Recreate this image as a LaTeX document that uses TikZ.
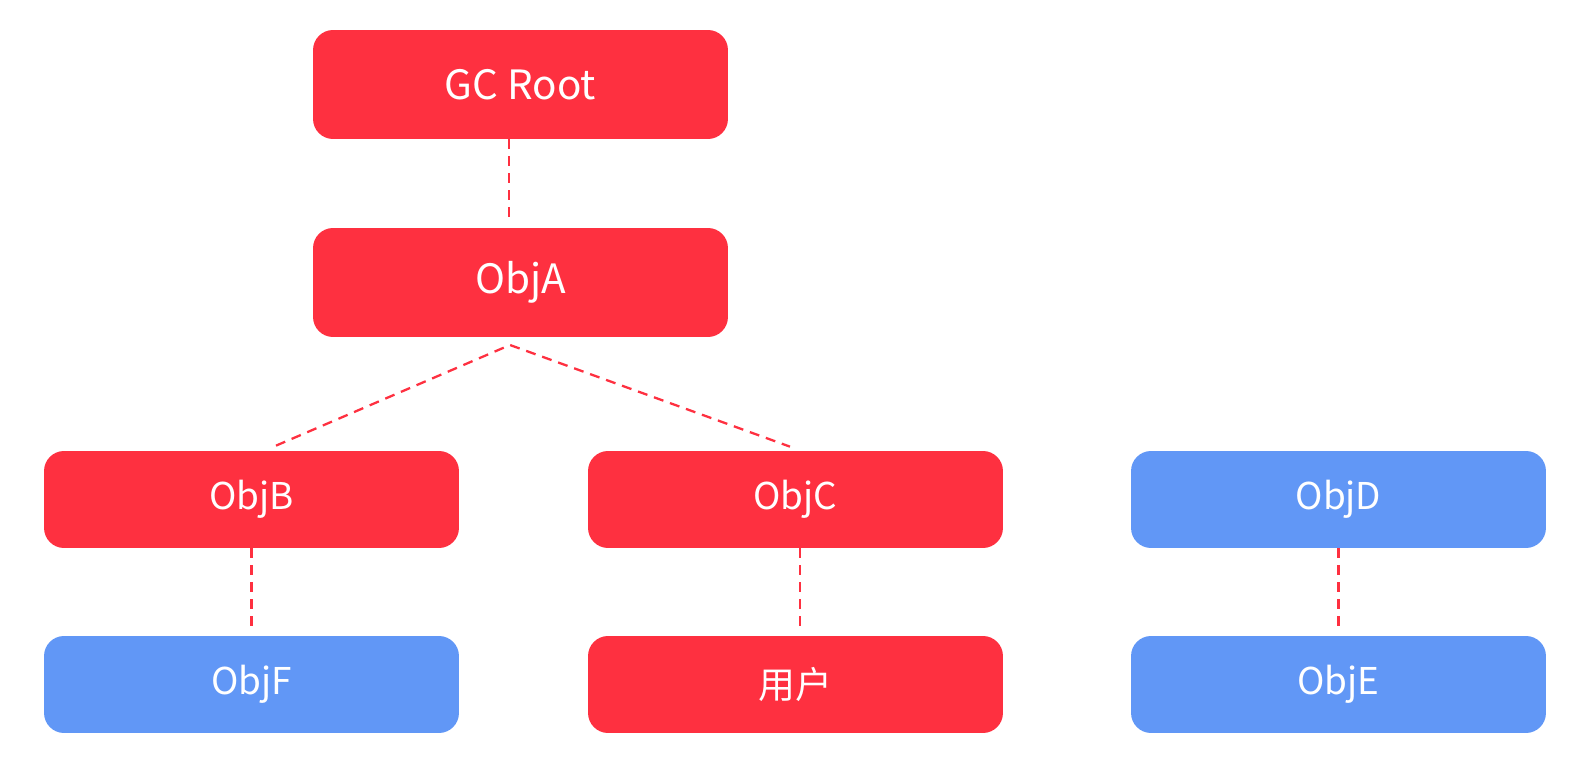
\documentclass[tikz,border=0pt]{standalone}
\usepackage{fontspec}
\setmainfont{Noto Sans CJK SC}
\usepackage{tikz}
\usetikzlibrary{positioning}
\definecolor{livered}{RGB}{254,48,64}
\definecolor{deadblue}{RGB}{97,151,246}

\begin{document}
\begin{tikzpicture}[x=0.02cm, y=-0.02cm,
                    objbox/.style={rounded corners=0.4cm, minimum width=8.3cm, minimum height=1.94cm, text=white, font=\fontsize{21}{25}\selectfont},
                    rootbox/.style={objbox, minimum height=2.18cm, font=\fontsize{23}{27}\selectfont},
                    refline/.style={livered, line width=1.3pt, dash pattern=on 0.2cm off 0.14cm}]
        \useasboundingbox (0,0) rectangle (1583,759);
        \draw (520.5,84.5) node[rootbox,fill=livered] (gc) {GC Root}
              (520.5,282.5) node[rootbox,fill=livered] (a) {ObjA};
        \draw (251.5,499.5) node[objbox,fill=livered] (b) {ObjB}
              (795.5,499.5) node[objbox,fill=livered] (c) {ObjC}
              (1338.5,499.5) node[objbox,fill=deadblue] (d) {ObjD}
              (251.5,684.5) node[objbox,fill=deadblue] (f) {ObjF}
              (795.5,684.5) node[objbox,fill=livered] (user) {用户}
              (1338.5,684.5) node[objbox,fill=deadblue] (e) {ObjE};
        \coordinate (apex) at (510,345);
        \draw[refline, shorten >=0.2cm] ([xshift=-0.23cm]gc.south)--([xshift=-0.23cm]a.north);
        \draw[refline] ([xshift=0.49cm,yshift=0.1cm]b.north)--(apex)--([xshift=-0.11cm,yshift=0.08cm]c.north);
        \draw[refline, shorten >=0.2cm] (b.south)--(f.north);
        \draw[refline, shorten >=0.2cm] ([xshift=0.09cm]c.south)--([xshift=0.09cm]user.north);
        \draw[refline, shorten >=0.2cm] (d.south)--(e.north);
    \end{tikzpicture}
\end{document}
